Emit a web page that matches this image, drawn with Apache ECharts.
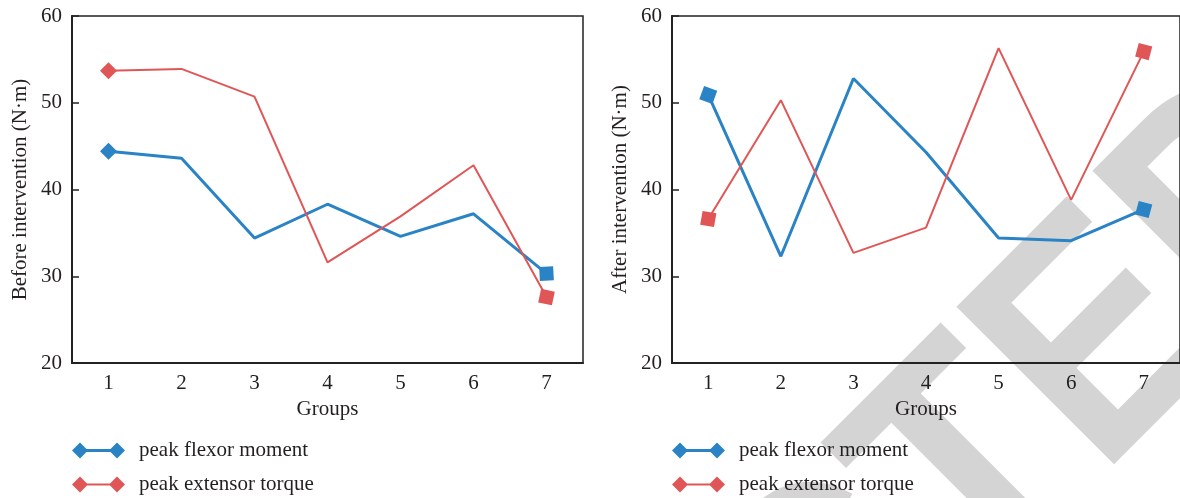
<!DOCTYPE html>
<html>
<head>
<meta charset="utf-8">
<script src="https://cdn.jsdelivr.net/npm/echarts@6/dist/echarts.min.js"></script>
<style>html,body{margin:0;padding:0;background:#fff;}#c{width:1180px;height:498px;}</style>
</head>
<body>
<div id="c"></div>
<script>
const categories = ['1', '2', '3', '4', '5', '6', '7'];
const beforeFlexor = [44.4, 43.6, 34.4, 38.3, 34.6, 37.2, 30.3];
const beforeExtensor = [53.7, 53.9, 50.7, 31.6, 36.9, 42.8, 27.6];
const afterFlexor = [50.9, 32.3, 52.8, 44.3, 34.4, 34.1, 37.7];
const afterExtensor = [36.6, 50.3, 32.7, 35.6, 56.3, 38.8, 55.9];
const yTicks = { min: 20, max: 60, interval: 10 };
const seriesNames = ['peak flexor moment', 'peak extensor torque'];
const yTitles = ['Before intervention (N\u00b7m)', 'After intervention (N\u00b7m)'];
const xTitle = 'Groups';
const watermark = 'RETRACTED';

const BLUE = '#2a83c5';
const RED = '#e05656';
const FONT = '"Liberation Serif", "Times New Roman", serif';
const TXT = '#231f20';
const FS = 21;

function markData(values, firstSym, firstRot, lastRot) {
  return values.map((v, i) => {
    if (i === 0) return { value: v, symbol: firstSym, symbolSize: firstSym === 'diamond' ? 17 : 14, symbolRotate: firstRot };
    if (i === values.length - 1) return { value: v, symbol: 'rect', symbolSize: 14, symbolRotate: lastRot };
    return { value: v, symbol: 'none' };
  });
}

const grids = [
  { left: 72, top: 16, width: 511, height: 347 },
  { left: 672, top: 16, width: 511, height: 347 }
];

function xAxis(idx) {
  return {
    type: 'category', gridIndex: idx, data: categories, boundaryGap: true,
    name: xTitle, nameLocation: 'middle', nameGap: 32,
    nameTextStyle: { fontFamily: FONT, fontSize: FS, color: TXT },
    axisLine: { lineStyle: { color: '#222', width: 2 } },
    axisTick: { inside: true, length: 7, lineStyle: { color: '#222', width: 1.5 } },
    axisLabel: { fontFamily: FONT, fontSize: FS, color: TXT, margin: 10 },
    splitLine: { show: false }
  };
}
function yAxis(idx) {
  return {
    type: 'value', gridIndex: idx, min: yTicks.min, max: yTicks.max, interval: yTicks.interval,
    name: yTitles[idx], nameLocation: 'middle', nameGap: 41, nameRotate: 90,
    nameTextStyle: { fontFamily: FONT, fontSize: FS, color: TXT },
    axisLine: { show: true, lineStyle: { color: '#222', width: 2 } },
    axisTick: { show: true, inside: true, length: 7, lineStyle: { color: '#222', width: 1.5 } },
    axisLabel: { fontFamily: FONT, fontSize: FS, color: TXT, margin: 10 },
    splitLine: { show: false }
  };
}

const icons = [
  'path://M0 8L8 0L16 8L8 16ZM37 8L45 0L53 8L45 16ZM14 6.5L39 6.5L39 9.5L14 9.5Z',
  'path://M0 8L8 0L16 8L8 16ZM37 8L45 0L53 8L45 16ZM14 7L39 7L39 9L14 9Z'
];

function legend(left, top, k) {
  return {
    left: left, top: top, orient: 'vertical', itemWidth: 53, itemHeight: 17,
    selectedMode: false, padding: 0,
    data: [{ name: seriesNames[k], icon: icons[k] }],
    textStyle: { fontFamily: FONT, fontSize: FS, color: TXT, padding: [0, 0, 0, 9] }
  };
}

function series(name, idx, values, color, width, firstSym, firstRot, lastRot) {
  return {
    name: name, type: 'line', xAxisIndex: idx, yAxisIndex: idx,
    data: markData(values, firstSym, firstRot, lastRot),
    color: color, showSymbol: true, showAllSymbol: true,
    lineStyle: { color: color, width: width },
    itemStyle: { color: color },
    emphasis: { disabled: true }, animation: false, z: 5
  };
}

// watermark placement (rotated 45deg text, partially visible)
const WM_SIZE = 324, WM_SCALE = 0.89;
const WM_FONT = 'bold ' + WM_SIZE + 'px "Liberation Sans", Arial, sans-serif';
const cv = document.createElement('canvas').getContext('2d');
cv.font = WM_FONT;
const wPre = cv.measureText(watermark.slice(0, 7)).width;
const lsbE = -cv.measureText('E').actualBoundingBoxLeft;
const d = (wPre + lsbE) * WM_SCALE;
const ang = Math.PI / 4;
const target = [1050, 402];
const wmX = target[0] - d * Math.cos(ang);
const wmY = target[1] + d * Math.sin(ang);

const chart = echarts.init(document.getElementById('c'), null, { renderer: 'canvas' });
chart.setOption({
  animation: false,
  backgroundColor: '#fff',
  grid: grids.map(g => Object.assign({ show: true, borderColor: '#222', borderWidth: 1.5, backgroundColor: 'transparent' }, g)),
  xAxis: [xAxis(0), xAxis(1)],
  yAxis: [yAxis(0), yAxis(1)],
  legend: [legend(72, 440, 0), legend(72, 474, 1), legend(672, 440, 0), legend(672, 474, 1)],
  graphic: [{
    type: 'text', z: -10, silent: true,
    x: wmX, y: wmY, rotation: ang, scaleX: WM_SCALE, scaleY: 1,
    style: { text: watermark, font: WM_FONT, fill: '#d4d4d4', align: 'left', verticalAlign: 'middle', textAlign: 'left', textVerticalAlign: 'middle' }
  }],
  series: [
    series(seriesNames[0], 0, beforeFlexor, BLUE, 3, 'diamond', 0, 3),
    series(seriesNames[1], 0, beforeExtensor, RED, 2, 'diamond', 0, -12),
    series(seriesNames[0], 1, afterFlexor, BLUE, 3, 'rect', -20, -15),
    series(seriesNames[1], 1, afterExtensor, RED, 2, 'rect', -10, -15)
  ]
});
</script>
</body>
</html>
